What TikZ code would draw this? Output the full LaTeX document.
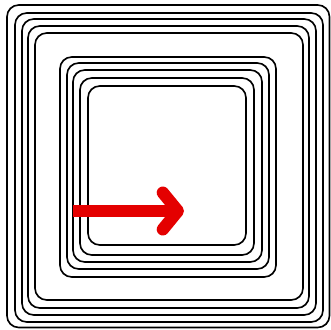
\documentclass[tikz,border=0pt]{standalone}
\usepackage{tikz}
\usetikzlibrary{arrows.meta}
\definecolor{arrowred}{RGB}{228,0,0}

\begin{document}
\begin{tikzpicture}[x=0.03cm, y=-0.03cm,
    frame/.style={draw=black, line width=1.4pt, rounded corners=10pt},
    move/.style={draw=arrowred, line width=10.5pt,
        -{Straight Barb[round, length=0.45cm, width=1.1cm]}}]
    \useasboundingbox (0,0) rectangle (331,329);

    % outer set of frames
    \foreach \l/\t/\r/\b in {7/5/329.5/327.5, 15/13/323/322, 22/19/316/315, 28/26/309/308, 35/33/303/300}
        \draw[frame] (\l,\t) rectangle (\r,\b);

    % inner set of frames
    \foreach \l/\t/\r/\b in {60/57/276/277, 67/63/269/269, 73/70/262/262, 80/78/254/255, 88/86/246/245}
        \draw[frame] (\l,\t) rectangle (\r,\b);

    \coordinate (start) at (73,211);
    \coordinate (tip) at (184,211);
    \draw[move] (start) -- (tip);
\end{tikzpicture}
\end{document}
